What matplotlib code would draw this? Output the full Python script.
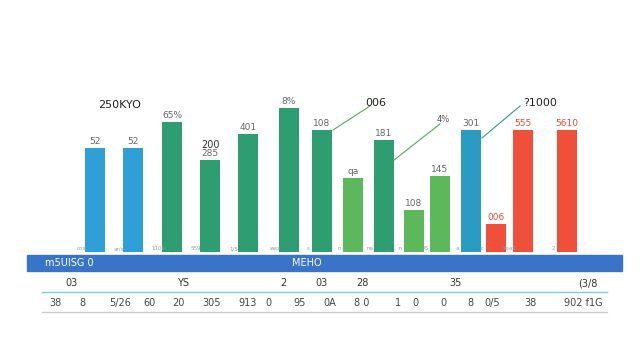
import matplotlib
matplotlib.use("Agg")
import matplotlib.pyplot as plt
from matplotlib.patches import Rectangle

# Datos del gráfico
valores = [52, 52, 65, 46, 59, 72, 61, 37, 56, 21, 38, 61, 14, 61, 61]
etiquetas = ["52", "52", "65%", "285", "401", "8%", "108", "qa", "181", "108", "145", "301", "006", "555", "5610"]
grupos = ["a", "a", "b", "b", "b", "b", "b", "c", "b", "c", "c", "d", "e", "e", "e"]
ticks_base = ["cos", "ar/s", "1100", "559", "1/5", "was", "s", "n", "na", "n", "AS", "a", "c", "5ea0", "2"]
fila1 = ["03", "YS", "2", "03", "28", "35", "(3/8"]
fila2 = ["38", "8", "5/26", "60", "20", "305", "913", "0", "95", "0A", "8 0", "1", "0", "0", "8", "0/5", "38", "902 f1G"]

# Estilo
colores = {"a": "#2F9FD8", "b": "#2E9E72", "c": "#5CB85A", "d": "#2A9CC4", "e": "#F0503A"}
xpos = [95, 133, 172, 210, 248, 289, 322, 353, 384, 414, 440, 471, 496, 523, 567]

fig = plt.figure(figsize=(6.4, 3.6), dpi=100)
fig.patch.set_facecolor("white")

# 1. Barras
ax = fig.add_axes([27/640, (360-252)/360, 595/640, 172/360])
ax.set_xlim(27, 622)
ax.set_ylim(0, 86)
ax.bar(xpos, valores, width=20, color=[colores[g] for g in grupos])
for x, v, t, g in zip(xpos, valores, etiquetas, grupos):
    c = "#E0503A" if g == "e" else "#666666"
    ax.text(x, v + 1, t, ha="center", va="bottom", fontsize=6.5, color=c)
for x, t in zip(xpos, ticks_base):
    ax.text(x - 14, 0.3, t, ha="center", va="bottom", fontsize=4, color="#999999")
ax.axis("off")

# 1.1 Anotaciones con líneas
ax.text(120, 71, "250KYO", ha="center", va="bottom", fontsize=8, color="#222222")
ax.text(210, 51, "200", ha="center", va="bottom", fontsize=7, color="#333333")
ax.text(376, 72, "006", ha="center", va="bottom", fontsize=8, color="#222222")
ax.text(443, 64, "4%", ha="center", va="bottom", fontsize=6, color="#555555")
ax.text(540, 72, "?1000", ha="center", va="bottom", fontsize=8, color="#222222")
ax.plot([333, 370], [61, 73], color="#4CAF50", lw=0.8)
ax.plot([394, 440], [46, 64], color="#4CAF50", lw=0.8)
ax.plot([482, 520], [57, 73], color="#2E9E72", lw=0.8)

# 2. Banda azul y tabla
tb = fig.add_axes([0, 0, 1, 1])
tb.set_xlim(0, 640)
tb.set_ylim(360, 0)
tb.axis("off")
tb.add_patch(Rectangle((27, 255), 595, 16, color="#3A74C9"))
tb.text(45, 263, "m5UISG 0", color="white", fontsize=7, va="center")
tb.text(292, 263, "MEHO", color="white", fontsize=7, va="center")
tb.plot([42, 607], [292, 292], color="#7CCFC4", lw=1)
tb.plot([42, 607], [312, 312], color="#CCCCCC", lw=1)
for x, t in zip([72, 183, 283, 322, 362, 455, 588], fila1):
    tb.text(x, 283, t, ha="center", va="center", fontsize=7, color="#333333")
for x, t in zip([55, 82, 120, 150, 178, 212, 248, 268, 300, 330, 362, 398, 415, 443, 470, 492, 530, 583], fila2):
    tb.text(x, 303, t, ha="center", va="center", fontsize=7, color="#444444")

fig.savefig("out.png", dpi=100)
